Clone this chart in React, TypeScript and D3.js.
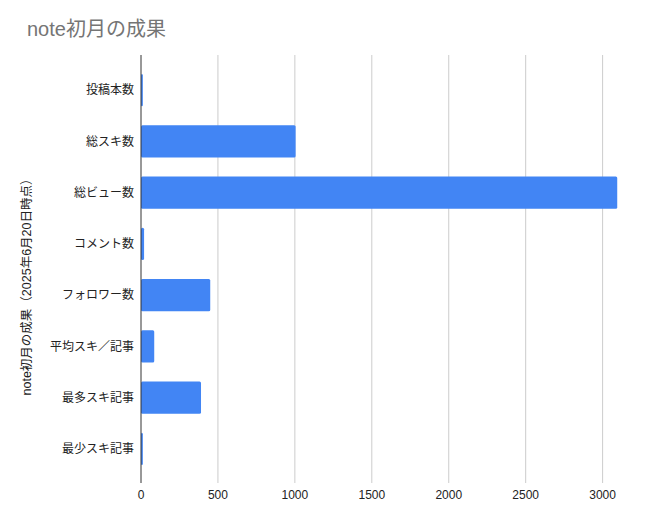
import * as d3 from 'd3';

const CATEGORIES = ['投稿本数', '総スキ数', '総ビュー数', 'コメント数', 'フォロワー数', '平均スキ／記事', '最多スキ記事', '最少スキ記事'];
const VALUES = [12, 1005, 3095, 20, 450, 86, 390, 12];
const X_TICKS = [0, 500, 1000, 1500, 2000, 2500, 3000];

const TITLE = 'note初月の成果';
const Y_TITLE = 'note初月の成果（2025年6月20日時点）';

const VW = 652;
const VH = 519;
const AREA = { left: 141, right: 618, top: 55, bottom: 483 };

const BLUE = '#4285f4';
const GRID = '#cccccc';
const FONT = 'Arial, "Liberation Sans", "Noto Sans CJK JP", sans-serif';

const xScale = d3.scaleLinear().domain([0, 3100]).range([AREA.left, AREA.right]);

const yScale = d3.scaleBand<string>()
  .domain(CATEGORIES)
  .range([64.5, 474.5])
  .paddingInner(0.37)
  .paddingOuter(0.185);

export default function App() {
  const bw = yScale.bandwidth();
  return (
    <svg width={VW} height={VH} viewBox={`0 0 ${VW} ${VH}`}
      style={{ position: 'fixed', left: 0, top: 0, display: 'block', background: '#fff' }}>
      <text x={27} y={36} fontSize={20} fill="#757575" fontFamily={FONT}>{TITLE}</text>

      {X_TICKS.filter(t => t > 0).map(t => (
        <line key={`g${t}`} x1={xScale(t)} x2={xScale(t)} y1={AREA.top} y2={AREA.bottom}
          stroke={GRID} strokeWidth={1} />
      ))}

      {CATEGORIES.map((c, i) => (
        <rect key={c} x={xScale(0)} y={yScale(c)!}
          width={xScale(VALUES[i]) - xScale(0)} height={bw}
          fill={BLUE} rx={1.5} />
      ))}

      <line x1={xScale(0)} x2={xScale(0)} y1={AREA.top} y2={AREA.bottom} stroke="#333" strokeWidth={1} />

      {CATEGORIES.map(c => (
        <text key={`l${c}`} x={134} y={yScale(c)! + bw / 2} dy="0.35em" textAnchor="end"
          fontSize={12} fill="#222" fontFamily={FONT}>{c}</text>
      ))}

      {X_TICKS.map(t => (
        <text key={`t${t}`} x={xScale(t)} y={499} textAnchor="middle"
          fontSize={12} fill="#222" fontFamily={FONT}>{t}</text>
      ))}

      <text transform={`translate(31, 284) rotate(-90)`}
        textAnchor="middle" fontSize={12.5} fill="#222" fontFamily={FONT}>{Y_TITLE}</text>
    </svg>
  );
}
